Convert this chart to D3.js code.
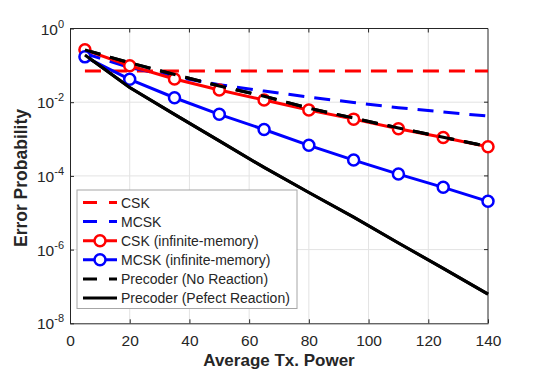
<!DOCTYPE html>
<html>
<head>
<meta charset="utf-8">
<script src="https://cdn.jsdelivr.net/npm/d3@7"></script>
<style>
  body { margin: 0; background: #fff; }
  svg { font-family: "Liberation Sans", Arial, sans-serif; }
</style>
</head>
<body>
<svg id="chart" width="540" height="373"></svg>
<script>

// The data
const powers = [ 5, 20, 35, 50, 65, 80, 95, 110, 125, 140 ];
const csk = [ 0.07, 0.07, 0.07, 0.07, 0.07, 0.07, 0.07, 0.07, 0.07, 0.07 ];
const mcsk = [ 0.21, 0.087, 0.049, 0.030, 0.020, 0.0138, 0.0098, 0.0071, 0.0054, 0.0042 ];
const cskInfinite = [ 0.263, 0.0977, 0.0427, 0.0214, 0.0115, 0.00617, 0.00347, 0.00191, 0.0011, 0.000617 ];
const mcskInfinite = [ 0.17, 0.0417, 0.0132, 0.00468, 0.00182, 0.000676, 0.000269, 0.000112, 4.9e-5, 2.04e-5 ];
const precoderNoReaction = [ 0.263, 0.1175, 0.0562, 0.0275, 0.0145, 0.0069, 0.0037, 0.002, 0.00112, 0.00063 ];
const precoderPerfect = [ 0.19, 0.0251, 0.00468, 8.9e-4, 1.7e-4, 3.55e-5, 7.6e-6, 1.51e-6, 3.1e-7, 6.2e-8 ];

const xTicks = [ 0, 20, 40, 60, 80, 100, 120, 140 ];
const yExponents = [ 0, -2, -4, -6, -8 ];

const seriesNames = [
  'CSK',
  'MCSK',
  'CSK (infinite-memory)',
  'MCSK (infinite-memory)',
  'Precoder (No Reaction)',
  'Precoder (Pefect Reaction)',
];

// Styles for each series, in legend order
const series = [
  { name: seriesNames[0], values: csk, color: '#ff0000', dash: '16,10', marker: false },
  { name: seriesNames[1], values: mcsk, color: '#0000ff', dash: '16,10', marker: false },
  { name: seriesNames[2], values: cskInfinite, color: '#ff0000', dash: null, marker: true },
  { name: seriesNames[3], values: mcskInfinite, color: '#0000ff', dash: null, marker: true },
  { name: seriesNames[4], values: precoderNoReaction, color: '#000000', dash: '16,10', marker: false },
  { name: seriesNames[5], values: precoderPerfect, color: '#000000', dash: null, marker: false },
];

// Plot box
const plotLeft = 70, plotRight = 488, plotTop = 28.5, plotBottom = 323.3;
const axisColor = '#262626';

const x = d3.scaleLinear().domain([ 0, 140 ]).range([ plotLeft, plotRight ]);
const y = d3.scaleLog().domain([ 1e-8, 1 ]).range([ plotBottom, plotTop ]);

const svg = d3.select('#chart');

// Grid lines
svg.append('g')
  .selectAll('line')
  .data(xTicks.slice(1, -1))
  .join('line')
    .attr('x1', d => x(d)).attr('x2', d => x(d))
    .attr('y1', plotTop).attr('y2', plotBottom)
    .attr('stroke', '#e3e3e3').attr('stroke-width', 1);

svg.append('g')
  .selectAll('line')
  .data(yExponents.slice(1, -1))
  .join('line')
    .attr('x1', plotLeft).attr('x2', plotRight)
    .attr('y1', d => y(Math.pow(10, d))).attr('y2', d => y(Math.pow(10, d)))
    .attr('stroke', '#e3e3e3').attr('stroke-width', 1);

// Construct the axes
const xAxis = svg.append('g')
  .attr('transform', `translate(0, ${plotBottom})`)
  .call(d3.axisBottom(x).tickValues(xTicks).tickSizeInner(-4).tickSizeOuter(0).tickPadding(11));

const yAxis = svg.append('g')
  .attr('transform', `translate(${plotLeft}, 0)`)
  .call(d3.axisLeft(y).tickValues(yExponents.map(e => Math.pow(10, e))).tickSizeInner(-4).tickSizeOuter(0).tickFormat(''));

[ xAxis, yAxis ].forEach(g => {
  g.select('.domain').attr('stroke', axisColor);
  g.selectAll('.tick line').attr('stroke', axisColor);
});

xAxis.selectAll('.tick text')
  .attr('fill', axisColor)
  .attr('font-size', 15.5)
  .attr('dy', '0.75em');

// Y tick labels as 10 with a superscript
yAxis.selectAll('.tick')
  .append('text')
    .attr('x', -6)
    .attr('y', 5.5)
    .attr('text-anchor', 'end')
    .attr('fill', axisColor)
    .attr('font-size', 15.5)
    .each(function(d) {
      const t = d3.select(this);
      t.append('tspan').text('10');
      t.append('tspan')
        .attr('dy', -7)
        .attr('font-size', 11)
        .text(Math.round(Math.log10(d)));
    });

// Box on the top and right
svg.append('path')
  .attr('d', `M${plotLeft},${plotTop}H${plotRight}V${plotBottom}`)
  .attr('fill', 'none')
  .attr('stroke', axisColor);

// Tick marks on the top and right
svg.append('g')
  .selectAll('line')
  .data(xTicks.slice(1, -1))
  .join('line')
    .attr('x1', d => x(d)).attr('x2', d => x(d))
    .attr('y1', plotTop).attr('y2', plotTop + 4)
    .attr('stroke', axisColor);

svg.append('g')
  .selectAll('line')
  .data(yExponents.slice(1, -1))
  .join('line')
    .attr('x1', plotRight - 4).attr('x2', plotRight)
    .attr('y1', d => y(Math.pow(10, d))).attr('y2', d => y(Math.pow(10, d)))
    .attr('stroke', axisColor);

// Construct the lines
const line = d3.line()
  .x((d, i) => x(powers[i]))
  .y(d => y(d));

svg.append('g')
  .selectAll('path')
  .data(series)
  .join('path')
    .attr('fill', 'none')
    .attr('stroke', d => d.color)
    .attr('stroke-width', 3)
    .attr('stroke-dasharray', d => d.dash)
    .attr('d', d => line(d.values));

// Circle markers
series.forEach(s => {
  if(!s.marker)
    return;

  svg.append('g')
    .selectAll('circle')
    .data(s.values)
    .join('circle')
      .attr('cx', (d, i) => x(powers[i]))
      .attr('cy', d => y(d))
      .attr('r', 5.5)
      .attr('fill', '#fff')
      .attr('stroke', s.color)
      .attr('stroke-width', 2.5);
});

// Redraw the black lines on top of the markers
svg.append('g')
  .selectAll('path')
  .data(series.slice(4))
  .join('path')
    .attr('fill', 'none')
    .attr('stroke', d => d.color)
    .attr('stroke-width', 3)
    .attr('stroke-dasharray', d => d.dash)
    .attr('d', d => line(d.values));

// Legend
const legend = svg.append('g');

legend.append('rect')
  .attr('x', 77).attr('y', 190)
  .attr('width', 220).attr('height', 118.5)
  .attr('fill', '#fff')
  .attr('stroke', '#a6a6a6');

const rows = legend.selectAll('g.row')
  .data(series)
  .join('g')
    .attr('class', 'row')
    .attr('transform', (d, i) => `translate(0, ${202.5 + i * 19.1})`);

rows.append('line')
  .attr('x1', 83).attr('x2', 117)
  .attr('stroke', d => d.color)
  .attr('stroke-width', 3)
  .attr('stroke-dasharray', d => d.dash ? '14,12' : null);

rows.filter(d => d.marker)
  .append('circle')
    .attr('cx', 100).attr('r', 5.5)
    .attr('fill', '#fff')
    .attr('stroke', d => d.color)
    .attr('stroke-width', 2.5);

rows.append('text')
  .attr('x', 121)
  .attr('y', 5)
  .attr('font-size', 14)
  .attr('fill', axisColor)
  .text(d => d.name);

// Axis labels
svg.append('text')
  .attr('x', x(70))
  .attr('y', 366)
  .attr('text-anchor', 'middle')
  .attr('font-size', 17)
  .attr('font-weight', 'bold')
  .attr('fill', axisColor)
  .text('Average Tx. Power');

svg.append('text')
  .attr('transform', `translate(26.5, 178) rotate(-90)`)
  .attr('text-anchor', 'middle')
  .attr('font-size', 17.5)
  .attr('font-weight', 'bold')
  .attr('fill', axisColor)
  .text('Error Probability');

</script>
</body>
</html>
